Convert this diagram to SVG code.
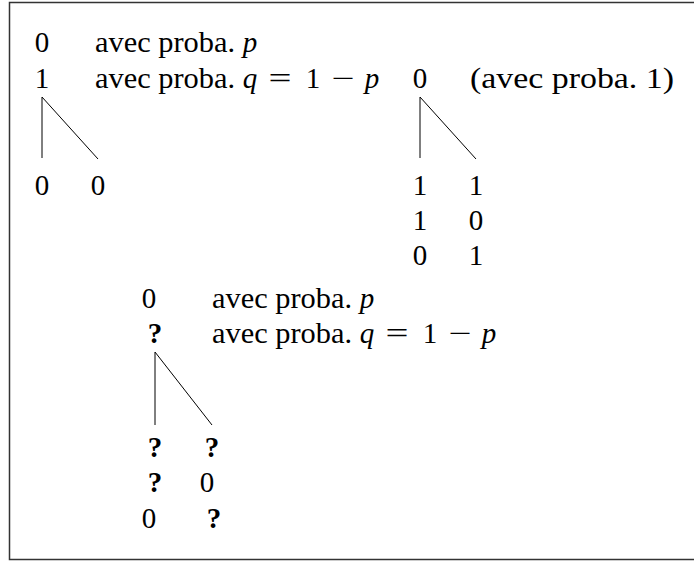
<svg xmlns="http://www.w3.org/2000/svg" width="694" height="561" viewBox="0 0 694 561">
<style>
text{font-family:"Liberation Serif","DejaVu Serif",serif;font-size:29px;fill:#000}
.i{font-style:italic}
.b{font-weight:bold}
.m{text-anchor:middle}
.c{stroke:#000;stroke-width:1;fill:none}
</style>
<rect x="0" y="0" width="694" height="561" fill="#fff"/>
<rect x="9.5" y="2.5" width="700" height="557" fill="none" stroke="#333" stroke-width="1.5"/>
<g id="connectors">
<path class="c" d="M42,97 V158 M42,97 L98,159"/>
<path class="c" d="M420,97 V158 M420,97 L476,159"/>
<path class="c" d="M155,352 V425 M155,352 L212,425"/>
</g>
<g id="legend1">
<text class="m" x="42" y="52">0</text>
<text x="95" y="52" textLength="140" lengthAdjust="spacingAndGlyphs">avec proba.</text>
<text class="i m" x="250" y="52">p</text>
<text class="m" x="42" y="88">1</text>
<text x="95" y="88" textLength="140" lengthAdjust="spacingAndGlyphs">avec proba.</text>
<text class="i m" x="250" y="88">q</text>
<text x="268.5" y="88" textLength="23" lengthAdjust="spacingAndGlyphs">=</text>
<text class="m" x="313" y="88">1</text>
<text x="331.5" y="88" textLength="23" lengthAdjust="spacingAndGlyphs">−</text>
<text class="i m" x="372" y="88">p</text>
</g>
<g id="tree1">
<text class="m" x="42" y="195">0</text>
<text class="m" x="98" y="195">0</text>
</g>
<g id="legend2">
<text class="m" x="420" y="88">0</text>
<text x="470" y="88" textLength="204" lengthAdjust="spacingAndGlyphs">(avec proba. 1)</text>
</g>
<g id="tree2">
<text class="m" x="420" y="195">1</text><text class="m" x="476" y="195">1</text>
<text class="m" x="420" y="230">1</text><text class="m" x="476" y="230">0</text>
<text class="m" x="420" y="265">0</text><text class="m" x="476" y="265">1</text>
</g>
<g id="legend3">
<text class="m" x="149" y="308">0</text>
<text x="212" y="308" textLength="140" lengthAdjust="spacingAndGlyphs">avec proba.</text>
<text class="i m" x="367" y="308">p</text>
<text class="b m" x="155" y="343">?</text>
<text x="212" y="343" textLength="140" lengthAdjust="spacingAndGlyphs">avec proba.</text>
<text class="i m" x="367" y="343">q</text>
<text x="385.5" y="343" textLength="23" lengthAdjust="spacingAndGlyphs">=</text>
<text class="m" x="430" y="343">1</text>
<text x="448.5" y="343" textLength="23" lengthAdjust="spacingAndGlyphs">−</text>
<text class="i m" x="489" y="343">p</text>
</g>
<g id="tree3">
<text class="b m" x="155" y="457">?</text><text class="b m" x="212" y="457">?</text>
<text class="b m" x="155" y="492">?</text><text class="m" x="207" y="492">0</text>
<text class="m" x="149" y="528">0</text><text class="b m" x="214" y="528">?</text>
</g>
</svg>
